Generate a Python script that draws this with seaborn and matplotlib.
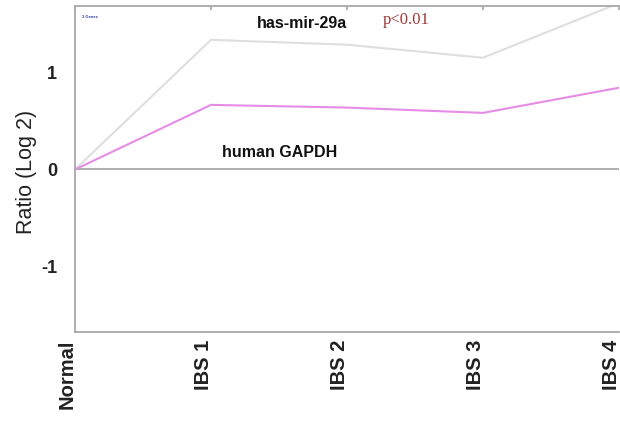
import matplotlib
matplotlib.use("Agg")
import matplotlib.pyplot as plt
import matplotlib.transforms as mtransforms
import seaborn as sns
import pandas as pd

groups = ["Normal", "IBS 1", "IBS 2", "IBS 3", "IBS 4"]
mir29a = [0.0, 1.34, 1.29, 1.155, 1.72]
gapdh = [0.0, 0.668, 0.64, 0.585, 0.845]
yticks = [-1, 0, 1]
ytick_labels = ["-1", "0", "1"]

sns.set_theme(style="white")
plt.rcParams['font.family'] = ['Liberation Sans', 'DejaVu Sans']

fig = plt.figure(figsize=(6.2, 4.23), dpi=100)
ax = fig.add_axes([75/620, 1-332/423, 544/620, 326/423])

df = pd.DataFrame({"group": groups * 2,
                   "ratio": mir29a + gapdh,
                   "gene": ["has-mir-29a"] * 5 + ["human GAPDH"] * 5})

sns.lineplot(data=df, x="group", y="ratio", hue="gene",
             palette={"has-mir-29a": "#dedede", "human GAPDH": "#e68ce6"},
             linewidth=1.5, sort=False, legend=False, ax=ax)

ax.axhline(0, color="#a8a8a8", linewidth=1.3, zorder=1)

ax.set_xlim(0, 4)
ax.set_ylim(-1.68, 1.69)
ax.set_yticks(yticks)
ax.set_yticklabels(ytick_labels, fontsize=13, fontweight="bold", color="#222222")
ax.set_xticks(range(len(groups)))
ax.set_xticklabels([])
offset = mtransforms.ScaledTranslation(-7.5/100, -8/100, fig.dpi_scale_trans)
xtrans = mtransforms.blended_transform_factory(ax.transData, ax.transAxes) + offset
for i, g in enumerate(groups):
    ax.text(i, 0, g, transform=xtrans, rotation=90, ha="center", va="top",
            fontsize=14.5, fontweight="bold", color="#222222", clip_on=False)

ax.set_xlabel("")
ax.set_ylabel("Ratio (Log 2)", fontsize=15.5, color="#222222")
ax.yaxis.set_label_coords(-38/544, 0.49)

for side in ["left", "bottom", "top"]:
    ax.spines[side].set_color("#a8a8a8")
    ax.spines[side].set_linewidth(1.3)
ax.spines["right"].set_visible(False)
ax.tick_params(axis="both", direction="in", length=3, color="#a8a8a8", top=True)
ax.tick_params(axis="y", pad=13)

ax.text(257/620, 1-24/423, "has-mir-29a", transform=fig.transFigure,
        fontsize=11.5, fontweight="bold", color="#111111", va="center", ha="left")
ax.text(383/620, 1-20/423, "p<0.01", transform=fig.transFigure,
        fontsize=12, family=["Liberation Serif", "DejaVu Serif"], color="#a03838",
        va="center", ha="left")
ax.text(222/620, 1-152/423, "human GAPDH", transform=fig.transFigure,
        fontsize=11.5, fontweight="bold", color="#111111", va="center", ha="left")
ax.text(82/620, 1-17/423, "3 Genes", transform=fig.transFigure,
        fontsize=3, fontweight="bold", color="#3040a0", va="center", ha="left")

fig.savefig("out.png", dpi=100)
